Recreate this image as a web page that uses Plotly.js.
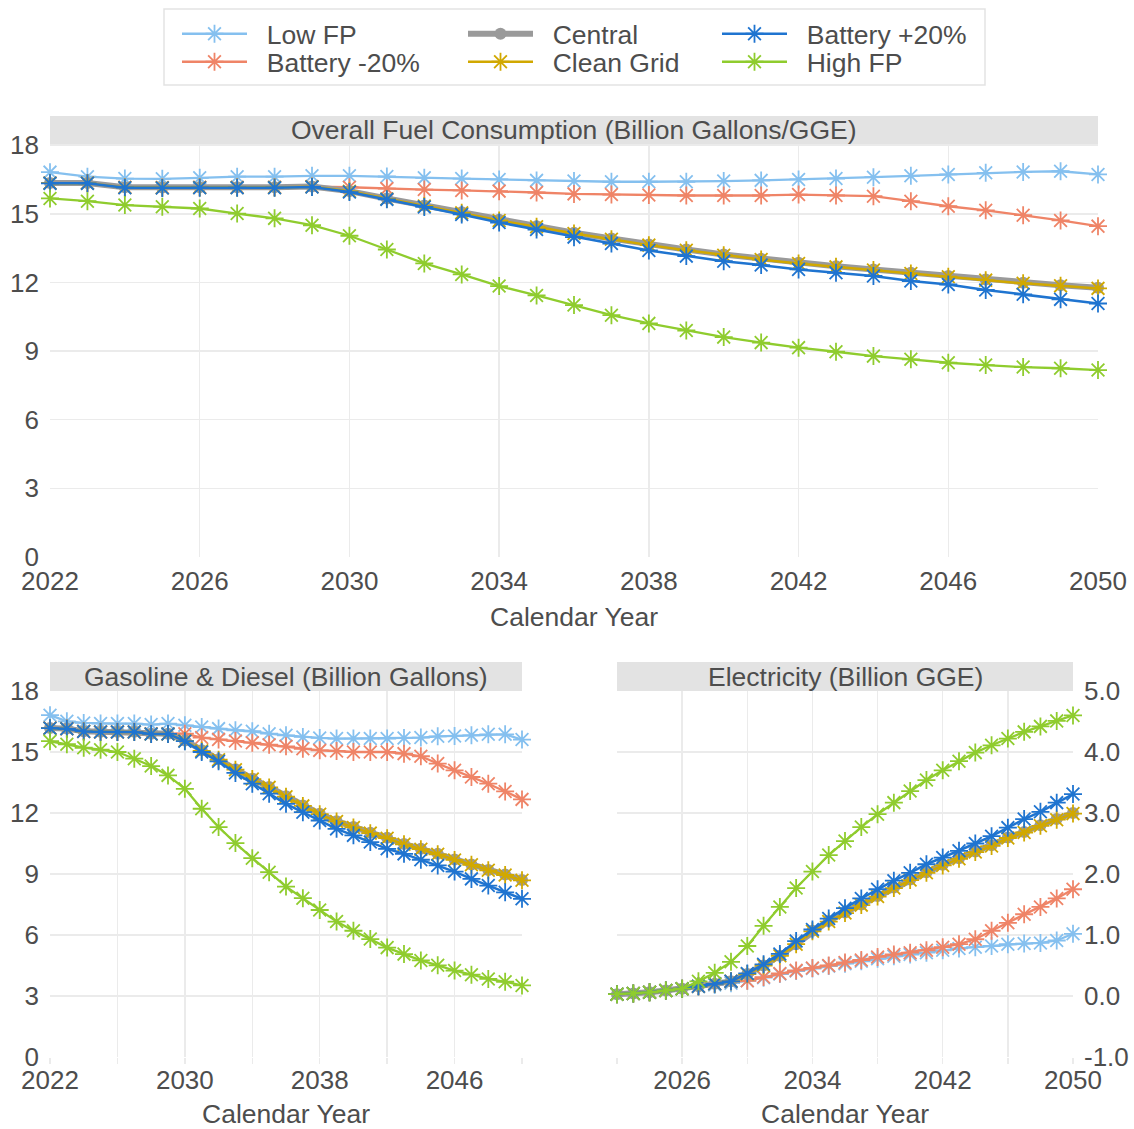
<!DOCTYPE html>
<html><head><meta charset="utf-8">
<script src="https://cdn.plot.ly/plotly-3.0.1.min.js"></script>
<style>html,body{margin:0;padding:0;background:#fff}#chart{width:1134px;height:1129px}</style>
</head><body><div id="chart"></div>
<script>
const years = [2022,2023,2024,2025,2026,2027,2028,2029,2030,2031,2032,2033,2034,2035,2036,2037,2038,2039,2040,2041,2042,2043,2044,2045,2046,2047,2048,2049,2050];
const scenarioNames = ["Low FP","Battery -20%","Central","Clean Grid","Battery +20%","High FP"];

// Overall Fuel Consumption (Billion Gallons/GGE)
const overallLowFP = [16.82,16.62,16.54,16.53,16.57,16.62,16.62,16.66,16.66,16.63,16.57,16.54,16.50,16.46,16.43,16.40,16.40,16.40,16.43,16.46,16.50,16.54,16.60,16.66,16.72,16.79,16.83,16.86,16.72];
const overallBattMinus = [16.35,16.35,16.16,16.15,16.16,16.16,16.16,16.19,16.16,16.10,16.06,16.02,15.99,15.93,15.87,15.84,15.82,15.80,15.80,15.80,15.84,15.80,15.77,15.55,15.33,15.15,14.94,14.71,14.46];
const overallCentral = [16.35,16.35,16.16,16.15,16.16,16.16,16.16,16.19,15.99,15.67,15.36,15.07,14.74,14.46,14.17,13.92,13.66,13.44,13.22,13.03,12.86,12.71,12.57,12.42,12.28,12.13,11.99,11.88,11.77];
const overallCleanGrid = [16.34,16.34,16.15,16.14,16.15,16.15,16.15,16.18,15.98,15.65,15.34,15.04,14.71,14.43,14.14,13.89,13.63,13.41,13.19,13.00,12.83,12.68,12.54,12.39,12.25,12.10,11.96,11.85,11.74];
const overallBattPlus = [16.33,16.33,16.14,16.13,16.14,16.14,16.14,16.17,15.95,15.63,15.30,14.97,14.62,14.31,13.98,13.70,13.40,13.15,12.93,12.76,12.57,12.42,12.28,12.06,11.91,11.67,11.48,11.26,11.08];
const overallHighFP = [15.67,15.55,15.38,15.31,15.23,15.01,14.80,14.50,14.04,13.44,12.83,12.35,11.84,11.43,11.01,10.57,10.21,9.90,9.61,9.37,9.15,8.97,8.78,8.64,8.49,8.39,8.30,8.25,8.17];

// Gasoline & Diesel (Billion Gallons)
const gasLowFP = [16.81,16.51,16.43,16.40,16.40,16.40,16.35,16.40,16.31,16.23,16.15,16.07,16.02,15.90,15.82,15.74,15.69,15.66,15.66,15.66,15.66,15.69,15.71,15.77,15.79,15.82,15.87,15.87,15.61];
const gasBattMinus = [16.18,16.15,16.02,15.99,15.99,15.99,15.90,15.90,15.90,15.71,15.62,15.54,15.46,15.36,15.28,15.16,15.08,15.05,15.00,15.00,15.00,14.92,14.79,14.43,14.10,13.77,13.44,13.06,12.67];
const gasCentral = [16.18,16.15,16.02,15.99,15.99,15.99,15.90,15.90,15.57,15.08,14.64,14.15,13.69,13.28,12.82,12.37,11.96,11.60,11.31,11.03,10.78,10.48,10.24,9.99,9.71,9.47,9.20,8.97,8.71];
const gasCleanGrid = [16.17,16.14,16.01,15.98,15.98,15.98,15.89,15.89,15.55,15.06,14.62,14.13,13.67,13.26,12.80,12.35,11.94,11.58,11.29,11.01,10.76,10.46,10.22,9.97,9.69,9.45,9.18,8.95,8.69];
const gasBattPlus = [16.17,16.14,16.01,15.98,15.98,15.98,15.89,15.89,15.53,15.00,14.54,13.97,13.44,12.95,12.45,12.04,11.63,11.22,10.90,10.57,10.24,9.99,9.70,9.42,9.12,8.76,8.43,8.10,7.78];
const gasHighFP = [15.53,15.38,15.21,15.11,15.00,14.67,14.31,13.85,13.19,12.21,11.31,10.52,9.78,9.09,8.38,7.81,7.23,6.66,6.21,5.80,5.38,5.06,4.75,4.51,4.25,4.05,3.84,3.70,3.52];

// Electricity (Billion GGE)
const elecLowFP = [0.03,0.04,0.06,0.09,0.12,0.15,0.18,0.21,0.25,0.30,0.36,0.41,0.45,0.49,0.53,0.57,0.61,0.65,0.68,0.71,0.75,0.78,0.80,0.82,0.85,0.86,0.87,0.91,1.02];
const elecBattMinus = [0.03,0.04,0.06,0.09,0.12,0.16,0.20,0.24,0.25,0.31,0.37,0.42,0.46,0.50,0.55,0.59,0.64,0.68,0.71,0.75,0.80,0.85,0.93,1.07,1.20,1.34,1.46,1.60,1.75];
const elecCentral = [0.03,0.04,0.06,0.09,0.12,0.16,0.20,0.24,0.36,0.50,0.66,0.85,1.07,1.23,1.37,1.50,1.64,1.78,1.91,2.03,2.15,2.26,2.37,2.47,2.60,2.69,2.80,2.90,3.00];
const elecCleanGrid = [0.03,0.04,0.06,0.09,0.12,0.16,0.20,0.24,0.36,0.50,0.66,0.85,1.06,1.22,1.36,1.49,1.63,1.77,1.90,2.02,2.14,2.25,2.36,2.46,2.59,2.68,2.79,2.89,2.99];
const elecBattPlus = [0.03,0.04,0.06,0.09,0.12,0.16,0.20,0.24,0.37,0.52,0.69,0.90,1.09,1.27,1.44,1.60,1.75,1.89,2.02,2.16,2.27,2.38,2.50,2.62,2.76,2.90,3.02,3.17,3.31];
const elecHighFP = [0.03,0.04,0.06,0.09,0.12,0.24,0.38,0.56,0.82,1.15,1.46,1.77,2.04,2.31,2.54,2.77,2.98,3.17,3.36,3.54,3.70,3.85,3.99,4.11,4.22,4.33,4.42,4.51,4.60];

const panelTitles = ["Overall Fuel Consumption (Billion Gallons/GGE)","Gasoline & Diesel (Billion Gallons)","Electricity (Billion GGE)"];
const xTitle = "Calendar Year";
const xTickVals = [2022,2026,2030,2034,2038,2042,2046,2050];
const xTickTextTop = ["2022","2026","2030","2034","2038","2042","2046","2050"];
const xTickTextLeft = ["2022","","2030","","2038","","2046",""];
const xTickTextRight = ["","2026","","2034","","2042","","2050"];
const yTickVals18 = [0,3,6,9,12,15,18];
const yTickValsElec = [-1,0,1,2,3,4,5];
const yTickTextElec = ["-1.0","0.0","1.0","2.0","3.0","4.0","5.0"];

const W = 1134, H = 1129;
const px = v => v / W;
const py = v => 1 - v / H;

// styles per scenario (drawing order) ; legend slot: column x (px), row y (px)
const styles = {
  "Low FP":       {color:"#85c0ef", width:2.3, symbol:"asterisk-open", size:15, legend:"legend",  lx:177, ly:34},
  "Battery -20%": {color:"#ef8467", width:2.3, symbol:"asterisk-open", size:15, legend:"legend2", lx:177, ly:62},
  "Central":      {color:"#9a9a9a", width:6,   symbol:"circle",        size:12, legend:"legend3", lx:463, ly:34},
  "Clean Grid":   {color:"#d1a800", width:2.5, symbol:"asterisk-open", size:15, legend:"legend4", lx:463, ly:62},
  "Battery +20%": {color:"#1f74d0", width:2.5, symbol:"asterisk-open", size:15, legend:"legend5", lx:717, ly:34},
  "High FP":      {color:"#8fcc2e", width:2.3, symbol:"asterisk-open", size:15, legend:"legend6", lx:717, ly:62}
};

const panels = [
  {xa:"x",  ya:"y",  data:{"Low FP":overallLowFP,"Battery -20%":overallBattMinus,"Central":overallCentral,"Clean Grid":overallCleanGrid,"Battery +20%":overallBattPlus,"High FP":overallHighFP}, legend:true},
  {xa:"x2", ya:"y2", data:{"Low FP":gasLowFP,"Battery -20%":gasBattMinus,"Central":gasCentral,"Clean Grid":gasCleanGrid,"Battery +20%":gasBattPlus,"High FP":gasHighFP}, legend:false},
  {xa:"x3", ya:"y3", data:{"Low FP":elecLowFP,"Battery -20%":elecBattMinus,"Central":elecCentral,"Clean Grid":elecCleanGrid,"Battery +20%":elecBattPlus,"High FP":elecHighFP}, legend:false}
];

const traces = [];
panels.forEach(p => {
  scenarioNames.forEach(name => {
    const s = styles[name];
    const isCircle = s.symbol === "circle";
    traces.push({
      type:"scatter", mode:"lines+markers", name:"\u00a0\u00a0" + name,
      x: years, y: p.data[name], xaxis:p.xa, yaxis:p.ya,
      line:{color:s.color, width:s.width},
      marker: isCircle ? {symbol:"circle", size:s.size, color:s.color} :
        {symbol:s.symbol, size:s.size, color:s.color, line:{color:s.color, width:1.8}},
      cliponaxis:false,
      showlegend:p.legend, legend:s.legend,
      hoverinfo:"skip"
    });
  });
});

const fontFam = "Liberation Sans, Arial, Helvetica, sans-serif";
const txtColor = "#4d4d4d";
const gridC = "#ebebeb";
const tickSize = 26;
const textSize = 26.5;

function xAxis(domain, ticktext, showTicks) {
  return {domain:domain, range:[2022,2050], tickvals:xTickVals, ticktext:ticktext,
    showgrid:true, gridcolor:gridC, gridwidth:1.5, zeroline:false, showline:false,
    ticks: showTicks ? "outside" : "", ticklen:6, tickcolor:gridC, tickwidth:1.5,
    tickfont:{size:tickSize, color:txtColor, family:fontFam}, ticklabelstandoff: showTicks ? -6 : 6,
    title:{text:xTitle, font:{size:textSize, color:txtColor, family:fontFam}, standoff:12}, fixedrange:true};
}
function yAxis(domain, range, tickvals, ticktext, side, anchor) {
  const a = {domain:domain, range:range, tickvals:tickvals, showgrid:true, gridcolor:gridC, gridwidth:1.5,
    zeroline:false, showline:false, ticks:"", side:side, anchor:anchor,
    tickfont:{size:tickSize, color:txtColor, family:fontFam}, ticklabelstandoff:10, fixedrange:true};
  if (ticktext) a.ticktext = ticktext;
  return a;
}

const topY = [py(557), py(144)];
const botY = [py(1057), py(691)];
const topX = [px(50), px(1098)];
const blX = [px(50), px(522)];
const brX = [px(617), px(1073)];

const stripStyle = {type:"rect", xref:"paper", yref:"paper", fillcolor:"#e3e3e3", line:{width:0}, layer:"below"};
const shapes = [
  Object.assign({x0:topX[0], x1:topX[1], y0:py(144), y1:py(116)}, stripStyle),
  Object.assign({x0:blX[0], x1:blX[1], y0:py(691), y1:py(662)}, stripStyle),
  Object.assign({x0:brX[0], x1:brX[1], y0:py(691), y1:py(662)}, stripStyle),
  {type:"rect", xref:"paper", yref:"paper", x0:px(164), x1:px(985), y0:py(85), y1:py(9), line:{color:"#e3e3e3", width:1.5}, fillcolor:"rgba(0,0,0,0)"}
];
const stripFont = {size:textSize, color:txtColor, family:fontFam};
const annotations = [
  {text:panelTitles[0], xref:"paper", yref:"paper", x:(topX[0]+topX[1])/2, y:py(130), showarrow:false, font:stripFont, xanchor:"center", yanchor:"middle"},
  {text:panelTitles[1], xref:"paper", yref:"paper", x:(blX[0]+blX[1])/2, y:py(677), showarrow:false, font:stripFont, xanchor:"center", yanchor:"middle"},
  {text:panelTitles[2], xref:"paper", yref:"paper", x:(brX[0]+brX[1])/2, y:py(677), showarrow:false, font:stripFont, xanchor:"center", yanchor:"middle"}
];

const layout = {
  width:W, height:H, margin:{l:0, r:0, t:0, b:0}, paper_bgcolor:"#ffffff", plot_bgcolor:"#ffffff",
  font:{family:fontFam, color:txtColor},
  xaxis: Object.assign(xAxis(topX, xTickTextTop, false), {anchor:"y"}),
  yaxis: yAxis(topY, [0,18.05], yTickVals18, null, "left", "x"),
  xaxis2: Object.assign(xAxis(blX, xTickTextLeft, true), {anchor:"y2"}),
  yaxis2: yAxis(botY, [0,18], yTickVals18, null, "left", "x2"),
  xaxis3: Object.assign(xAxis(brX, xTickTextRight, true), {anchor:"y3"}),
  yaxis3: yAxis(botY, [-1,5], yTickValsElec, yTickTextElec, "right", "x3"),
  shapes:shapes, annotations:annotations, showlegend:true, hovermode:false
};
scenarioNames.forEach(name => {
  const s = styles[name];
  layout[s.legend] = {x:px(s.lx), y:py(s.ly), xanchor:"left", yanchor:"middle", orientation:"v",
    bgcolor:"rgba(0,0,0,0)", borderwidth:0, font:{size:textSize, color:txtColor, family:fontFam},
    itemwidth:65, itemclick:false, itemdoubleclick:false};
});

Plotly.newPlot("chart", traces, layout, {displayModeBar:false, staticPlot:true});
</script></body></html>
